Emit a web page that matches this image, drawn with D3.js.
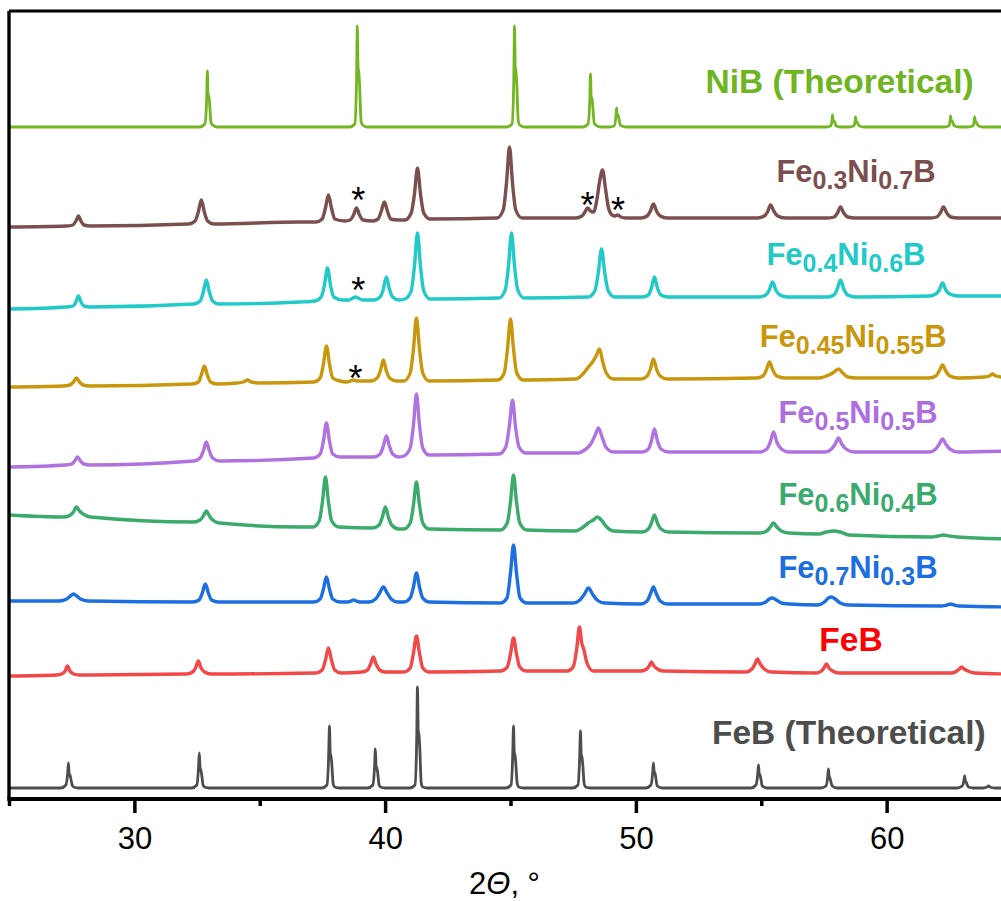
<!DOCTYPE html>
<html>
<head>
<meta charset="utf-8">
<script src="https://cdn.jsdelivr.net/npm/d3@7/dist/d3.min.js"></script>
<style>
  body { margin: 0; background: #fff; }
  svg { display: block; font-family: Arial, "Liberation Sans", sans-serif; }
</style>
</head>
<body>
<svg id="chart" width="1001" height="901"></svg>
<script>
// 2θ (deg) vs intensity (a.u., stacked), top to bottom

const nibTheo = [
  [25,672],
  [32.61,672],[32.81,675],[32.88,697],[32.91,728],[32.94,702],[32.97,704],[33.0,695],[33.06,676],[33.12,674],[33.3,672],
  [38.59,672],[38.79,675],[38.86,718],[38.89,773],[38.92,732],[38.95,727],[38.98,715],[39.04,678],[39.1,674],[39.28,672],
  [44.86,672],[45.06,675],[45.13,718],[45.16,773],[45.19,732],[45.22,727],[45.25,715],[45.31,678],[45.37,674],[45.55,672],
  [47.89,672],[48.09,675],[48.16,697],[48.19,725],[48.22,700],[48.25,701],[48.28,693],[48.34,676],[48.4,674],[48.58,672],
  [48.93,672],[49.13,673],[49.2,681],[49.23,691],[49.26,683],[49.29,684],[49.32,681],[49.38,674],[49.45,673],[49.6,672],
  [57.6,672],[57.76,673],[57.82,678],[57.84,684],[57.87,678],[57.9,678],[57.94,676],[57.99,673],[58.15,672],
  [58.5,672],[58.68,673],[58.74,677],[58.76,682],[58.79,677],[58.82,677],[58.86,675],[58.91,673],[59.1,672],
  [62.3,672],[62.47,673],[62.53,678],[62.55,683],[62.58,678],[62.61,678],[62.65,676],[62.7,673],[62.9,672],
  [63.25,672],[63.43,673],[63.49,677],[63.51,682],[63.54,677],[63.57,677],[63.61,675],[63.66,673],[63.85,672],
  [65,672]
];

const fe30 = [
  [25,572],
  [27.3,573],[27.55,574],[27.67,578],[27.77,583],[27.87,578],[27.99,574],[28.25,573],
  [32.17,575],[32.42,578],[32.55,587],[32.67,599],[32.79,587],[32.92,578],[33.17,575],
  [36.6,577],
  [37.24,577],[37.49,580],[37.62,591],[37.74,604],[37.86,591],[37.99,580],
  [38.4,578],[38.6,579],[38.74,584],[38.86,591],[38.98,584],[39.12,579],
  [39.5,578],[39.72,580],[39.85,588],[39.97,597],[40.09,588],[40.22,580],[40.5,579],
  [40.79,579],[41.04,586],[41.17,605],[41.29,631],[41.41,605],[41.54,586],[41.79,580],
  [44.46,581],[44.71,589],[44.84,616],[44.96,652],[45.08,616],[45.21,589],[45.46,581],
  [47.6,581],[47.85,583],[47.97,587],[48.07,591],[48.19,588],[48.31,587],[48.45,600],[48.55,617],
  [48.67,629],[48.79,610],[48.9,592],[49.05,584],[49.17,583],[49.27,584],[49.4,582],[49.6,581],
  [50.2,581],[50.45,583],[50.58,588],[50.70,595],[50.82,588],[50.97,583],[51.25,581],
  [54.85,581],[55.12,583],[55.25,587],[55.37,594],[55.5,588],[55.66,583],[55.95,581],
  [57.65,581],[57.9,582],[58.04,586],[58.16,592],[58.29,586],[58.45,582],[58.75,581],
  [61.75,581],[62.0,582],[62.14,586],[62.27,592],[62.4,586],[62.56,582],[62.85,581],
  [65,581]
];

const fe40 = [
  [25,490],
  [27.3,492],[27.55,493],[27.67,497],[27.77,503],[27.87,497],[27.99,493],[28.25,492],
  [32.37,495],[32.62,498],[32.75,507],[32.87,519],[32.99,507],[33.12,498],[33.37,495],
  [36.6,497],
  [37.2,498],[37.45,502],[37.58,514],[37.70,531],[37.82,514],[37.95,502],[38.3,499],
  [38.55,499],[38.72,501],[38.82,502],[38.92,501],[39.1,499],
  [39.55,499],[39.8,502],[39.93,510],[40.05,522],[40.17,510],[40.3,502],[40.55,499],
  [40.79,500],[41.04,508],[41.17,533],[41.29,566],[41.41,533],[41.54,508],[41.79,500],
  [44.54,501],[44.79,509],[44.92,533],[45.04,566],[45.16,533],[45.29,509],[45.54,501],
  [48.1,502],[48.36,508],[48.5,526],[48.63,550],[48.76,526],[48.9,508],[49.16,502],
  [50.25,502],[50.5,504],[50.62,511],[50.74,522],[50.86,511],[51.0,504],[51.3,502],
  [54.9,502],[55.18,504],[55.32,509],[55.45,517],[55.58,509],[55.75,504],[56.05,502],
  [57.65,502],[57.9,504],[58.03,510],[58.16,519],[58.29,510],[58.45,504],[58.75,502],
  [61.7,503],[61.96,505],[62.1,509],[62.23,516],[62.36,509],[62.52,505],[62.85,503],
  [65,503]
];

const fe45 = [
  [25,412],
  [27.15,413],[27.42,414],[27.57,417],[27.69,421],[27.81,417],[27.96,414],[28.25,413],
  [32.3,415],[32.55,417],[32.67,424],[32.79,433],[32.91,424],[33.04,417],[33.3,415],
  [34.1,416],[34.35,417],[34.51,419],[34.67,417],[34.95,416],
  [37.16,417],[37.41,421],[37.54,435],[37.66,453],[37.78,435],[37.91,421],[38.2,418],
  [38.45,417],[38.62,418],[38.74,419],[38.88,418],[39.1,418],
  [39.43,418],[39.68,421],[39.81,428],[39.93,439],[40.05,428],[40.18,421],[40.45,418],
  [40.75,418],[41.0,426],[41.13,450],[41.25,481],[41.37,450],[41.5,426],[41.75,418],
  [44.5,419],[44.75,426],[44.88,450],[45.0,480],[45.12,450],[45.25,426],[45.5,419],
  [47.6,420],[47.85,424],[48.11,432],[48.3,438],[48.43,444],[48.55,450],[48.68,437],[48.82,426],[49.1,420],
  [50.2,420],[50.45,423],[50.58,430],[50.70,440],[50.82,430],[50.97,423],[51.25,420],
  [54.8,421],[55.07,423],[55.2,429],[55.33,437],[55.46,429],[55.62,423],[55.95,421],
  [57.3,421],[57.6,423],[57.85,426],[58.08,430],[58.25,426],[58.45,422],[58.8,421],
  [61.7,421],[61.96,423],[62.1,428],[62.23,434],[62.36,428],[62.52,423],[62.85,421],
  [63.9,422],[64.1,423],[64.22,425],[64.36,423],[64.6,422],
  [65,423]
];

const fe50 = [
  [25,332],
  [27.25,334],[27.5,335],[27.62,338],[27.73,342],[27.85,338],[27.98,335],[28.25,334],
  [32.37,338],[32.62,341],[32.75,348],[32.87,357],[32.99,348],[33.12,341],[33.4,338],
  [37.16,341],[37.41,345],[37.54,358],[37.66,376],[37.78,358],[37.91,345],[38.2,342],
  [39.55,342],[39.8,345],[39.93,353],[40.05,363],[40.17,353],[40.3,345],[40.55,342],
  [40.75,343],[41.0,351],[41.13,374],[41.25,405],[41.37,374],[41.5,351],[41.75,344],
  [44.55,345],[44.81,352],[44.95,372],[45.08,399],[45.2,372],[45.34,352],[45.6,346],
  [47.7,346],[47.95,349],[48.2,355],[48.38,364],[48.51,371],[48.65,362],[48.8,352],[49.1,347],
  [50.25,347],[50.5,350],[50.62,358],[50.74,370],[50.86,358],[51.0,350],[51.3,347],
  [54.95,347],[55.22,350],[55.36,357],[55.49,367],[55.62,357],[55.8,350],[56.1,347],
  [57.55,347],[57.8,350],[57.95,355],[58.08,361],[58.21,355],[58.38,350],[58.7,347],
  [61.7,347],[61.96,350],[62.1,355],[62.23,360],[62.36,355],[62.52,350],[62.85,347],
  [65,348]
];

const fe60 = [
  [25,284],
  [27.2,282],[27.45,284],[27.57,287],[27.69,292],[27.81,288],[27.96,285],[28.25,282],
  [32.37,277],[32.62,279],[32.75,283],[32.87,288],[32.99,283],[33.12,279],[33.4,276],
  [36.6,272],
  [37.12,272],[37.37,278],[37.5,297],[37.62,322],[37.74,297],[37.87,278],[38.15,272],
  [39.5,271],[39.76,274],[39.89,282],[40.01,292],[40.13,282],[40.26,274],[40.55,270],
  [40.75,270],[41.0,276],[41.13,294],[41.25,317],[41.37,294],[41.5,276],[41.75,270],
  [44.6,269],[44.87,276],[45.0,297],[45.12,324],[45.24,297],[45.37,276],[45.65,269],
  [47.6,268],[47.85,271],[48.1,276],[48.3,279],[48.47,282],[48.62,279],[48.8,273],[49.1,268],
  [50.25,267],[50.5,270],[50.62,276],[50.74,284],[50.86,276],[51.0,270],[51.3,267],
  [54.95,266],[55.22,268],[55.36,272],[55.49,276],[55.62,272],[55.8,268],[56.1,266],
  [57.3,265],[57.6,267],[57.88,268],[58.15,267],[58.5,264],
  [61.8,262],[62.05,263],[62.27,264],[62.5,263],[62.8,262],
  [65,260]
];

const fe70 = [
  [25,198],
  [27.0,198],[27.3,200],[27.45,203],[27.57,205],[27.7,203],[27.85,200],[28.15,198],
  [32.33,197],[32.58,199],[32.71,206],[32.83,215],[32.95,206],[33.08,199],[33.35,197],
  [37.16,197],[37.41,200],[37.54,210],[37.66,222],[37.78,210],[37.91,200],[38.2,197],
  [38.5,197],[38.65,198],[38.74,199],[38.84,198],[39.0,197],
  [39.35,197],[39.62,200],[39.78,206],[39.93,212],[40.08,206],[40.24,200],[40.5,197],
  [40.75,197],[41.0,201],[41.13,212],[41.25,226],[41.37,212],[41.5,201],[41.75,197],
  [44.6,196],[44.86,201],[45.0,226],[45.12,254],[45.24,226],[45.38,201],[45.65,196],
  [47.5,196],[47.77,199],[47.95,205],[48.11,211],[48.27,205],[48.45,199],[48.75,196],
  [50.2,195],[50.45,198],[50.58,205],[50.70,212],[50.82,205],[50.97,198],[51.25,195],
  [54.9,195],[55.18,197],[55.32,200],[55.45,201],[55.6,199],[55.8,196],[56.1,195],
  [57.25,194],[57.52,197],[57.68,201],[57.8,202],[57.95,200],[58.15,196],[58.45,194],
  [62.2,193],[62.4,194],[62.55,195],[62.7,194],[62.9,193],
  [65,192]
];

const feb = [
  [25,123],
  [26.9,124],[27.1,125],[27.24,128],[27.33,133],[27.43,128],[27.58,125],[27.8,124],
  [32.08,125],[32.32,127],[32.44,131],[32.55,138],[32.66,131],[32.8,127],[33.05,125],
  [37.24,126],[37.49,129],[37.62,139],[37.74,151],[37.86,139],[37.99,129],[38.25,126],
  [39.08,127],[39.3,129],[39.42,135],[39.53,142],[39.64,135],[39.78,129],[40.0,127],
  [40.75,127],[41.0,131],[41.13,146],[41.25,163],[41.37,146],[41.5,131],[41.75,127],
  [44.62,128],[44.87,132],[45.0,145],[45.12,161],[45.24,145],[45.37,132],[45.62,128],
  [47.27,128],[47.5,132],[47.64,150],[47.75,172],[47.84,156],[47.92,150],[48.05,136],[48.3,128],
  [50.2,128],[50.43,130],[50.53,133],[50.62,137],[50.72,133],[50.86,130],[51.1,128],
  [54.4,127],[54.63,130],[54.75,135],[54.85,140],[54.96,135],[55.12,130],[55.4,127],
  [57.2,126],[57.4,128],[57.5,131],[57.6,135],[57.7,131],[57.85,128],[58.1,126],
  [62.6,126],[62.8,128],[62.9,130],[62.99,132],[63.09,130],[63.24,128],[63.5,126],
  [65,125]
];

const febTheo = [
  [25,11],
  [27.07,11],[27.27,14],[27.34,26],[27.37,36],[27.4,25],[27.43,24],[27.46,21],[27.52,14],[27.58,12],[27.76,11],
  [32.29,11],[32.49,14],[32.56,32],[32.59,46],[32.62,31],[32.65,29],[32.68,25],[32.74,14],[32.8,12],[32.98,11],
  [37.48,11],[37.68,14],[37.75,45],[37.78,73],[37.81,46],[37.84,43],[37.87,36],[37.93,15],[37.99,12],[38.17,11],
  [39.31,11],[39.51,14],[39.58,33],[39.61,50],[39.64,33],[39.67,31],[39.7,27],[39.76,14],[39.82,12],[40.0,11],
  [40.99,11],[41.19,14],[41.26,60],[41.29,112],[41.32,68],[41.35,64],[41.38,52],[41.44,16],[41.5,12],[41.68,11],
  [44.82,11],[45.02,14],[45.09,45],[45.12,73],[45.15,46],[45.18,44],[45.21,36],[45.27,15],[45.33,12],[45.51,11],
  [47.49,11],[47.69,14],[47.76,43],[47.79,68],[47.82,44],[47.85,42],[47.88,35],[47.94,15],[48.0,12],[48.18,11],
  [50.40,11],[50.6,14],[50.67,26],[50.70,36],[50.73,27],[50.76,26],[50.79,22],[50.85,13],[51.05,11],
  [54.59,11],[54.79,14],[54.86,25],[54.89,34],[54.92,25],[54.95,24],[54.98,21],[55.04,13],[55.24,11],
  [57.38,11],[57.58,13],[57.65,22],[57.68,30],[57.71,22],[57.74,21],[57.77,18],[57.83,13],[58.03,11],
  [62.81,11],[63.01,13],[63.08,18],[63.11,23],[63.14,18],[63.17,17],[63.2,15],[63.26,12],[63.46,11],
  [63.85,11],[64.0,12],[64.07,13],[64.12,12],[64.3,11],
  [65,11]
];

// label text parts: [main, sub, main, sub, main]
const labelParts = [
  ["NiB (Theoretical)"],
  ["Fe", "0.3", "Ni", "0.7", "B"],
  ["Fe", "0.4", "Ni", "0.6", "B"],
  ["Fe", "0.45", "Ni", "0.55", "B"],
  ["Fe", "0.5", "Ni", "0.5", "B"],
  ["Fe", "0.6", "Ni", "0.4", "B"],
  ["Fe", "0.7", "Ni", "0.3", "B"],
  ["FeB"],
  ["FeB (Theoretical)"]
];

// impurity peaks marked with * (centre of the mark), [2θ, intensity]
const starPeaks = [[38.93, 607], [48.07, 602], [49.29, 597], [38.93, 517], [38.82, 429]];

const majorTicks = [30, 40, 50, 60];
const minorTicks = [25, 35, 45, 55, 65];

// ---- styling / layout ----
const seriesData = [nibTheo, fe30, fe40, fe45, fe50, fe60, fe70, feb, febTheo];
const lineColors = ["#72b622", "#7b4f50", "#1fcac7", "#c9970c", "#b072e0", "#3baa6d", "#1c6fe0", "#f24848", "#4d4d4d"];
const textColors = ["#6fb51f", "#7b4f50", "#1fcac7", "#c9970c", "#ad6fdf", "#3baa6d", "#1c6fe0", "#ff0000", "#4d4d4d"];
const theoretical = [true, false, false, false, false, false, false, false, true];
// label right edge / baseline, in data units
const labelAt = [[63.47, 706], [61.95, 617], [61.55, 534], [62.39, 452], [62.03, 376], [62.03, 294], [62.03, 221], [59.84, 148], [63.95, 55]];

const svg = d3.select("#chart");
const W = 1001, H = 901;
const mLeft = 9, mTop = 11, mBottom = 799, mRight = 1012;

const x = d3.scaleLinear().domain([25, 65]).range([mLeft, mRight]);
const y = d3.scaleLinear().domain([0, 788]).range([mBottom, mTop]);

const line = d3.line()
  .x(d => x(d[0]))
  .y(d => y(d[1]))
  .curve(d3.curveMonotoneX);

svg.append("rect").attr("width", W).attr("height", H).attr("fill", "#fff");

svg.append("clipPath").attr("id", "plotClip")
  .append("rect").attr("x", mLeft).attr("y", mTop).attr("width", mRight - mLeft).attr("height", mBottom - mTop);

const plot = svg.append("g").attr("clip-path", "url(#plotClip)");

plot.selectAll("path.pattern")
  .data(seriesData)
  .join("path")
  .attr("class", "pattern")
  .attr("d", line)
  .attr("fill", "none")
  .attr("stroke", (d, i) => lineColors[i])
  .attr("stroke-width", (d, i) => theoretical[i] ? 2.8 : 3.4)
  .attr("stroke-linejoin", "round");

// labels: plain names a bit larger, formulas with subscripts
labelParts.forEach((parts, i) => {
  const plain = parts.length === 1;
  const t = svg.append("text")
    .attr("x", x(labelAt[i][0]))
    .attr("y", y(labelAt[i][1]))
    .attr("text-anchor", "end")
    .attr("font-weight", "bold")
    .attr("font-size", plain ? 33.5 : 31)
    .attr("fill", textColors[i]);
  parts.forEach((p, k) => {
    const s = t.append("tspan").text(p);
    if (k % 2 === 1) s.attr("font-size", 25).attr("dy", 7);
    else if (k > 0) s.attr("dy", -7);
  });
});

// asterisks
const STAR_FS = 36;
svg.selectAll("text.star")
  .data(starPeaks)
  .join("text")
  .attr("class", "star")
  .attr("x", d => x(d[0]))
  .attr("y", d => y(d[1]) + 0.585 * STAR_FS)
  .attr("text-anchor", "middle")
  .attr("font-size", STAR_FS)
  .attr("fill", "#000")
  .text("*");

// x axis
const gMajor = svg.append("g").attr("transform", `translate(0,${mBottom})`)
  .call(d3.axisBottom(x).tickValues(majorTicks).tickSize(14).tickSizeOuter(0).tickPadding(14).tickFormat(d3.format("d")));
gMajor.select(".domain").remove();
gMajor.selectAll(".tick line").attr("stroke", "#000").attr("stroke-width", 3.5);
gMajor.selectAll(".tick text").attr("font-size", 31).attr("fill", "#000")
  .attr("font-family", "Arial, 'Liberation Sans', sans-serif");

const gMinor = svg.append("g").attr("transform", `translate(0,${mBottom})`)
  .call(d3.axisBottom(x).tickValues(minorTicks).tickSize(7).tickSizeOuter(0).tickFormat(""));
gMinor.select(".domain").remove();
gMinor.selectAll(".tick line").attr("stroke", "#000").attr("stroke-width", 3.5);

// frame
const frame = svg.append("g").attr("stroke", "#000").attr("fill", "none");
frame.append("line").attr("x1", mLeft).attr("x2", mRight).attr("y1", mTop).attr("y2", mTop).attr("stroke-width", 3);
frame.append("line").attr("x1", mLeft).attr("x2", mLeft).attr("y1", mTop).attr("y2", mBottom).attr("stroke-width", 3.4);
frame.append("line").attr("x1", mLeft - 1.7).attr("x2", mRight).attr("y1", mBottom).attr("y2", mBottom).attr("stroke-width", 3.8);
frame.append("line").attr("x1", mRight).attr("x2", mRight).attr("y1", mTop).attr("y2", mBottom).attr("stroke-width", 3);

// axis title
const title = svg.append("text")
  .attr("x", (x(25) + x(65)) / 2 - 6)
  .attr("y", 894)
  .attr("text-anchor", "middle")
  .attr("font-size", 31)
  .attr("fill", "#000");
title.append("tspan").text("2");
title.append("tspan").attr("font-style", "italic").text("Θ");
title.append("tspan").text(", °");
</script>
</body>
</html>
